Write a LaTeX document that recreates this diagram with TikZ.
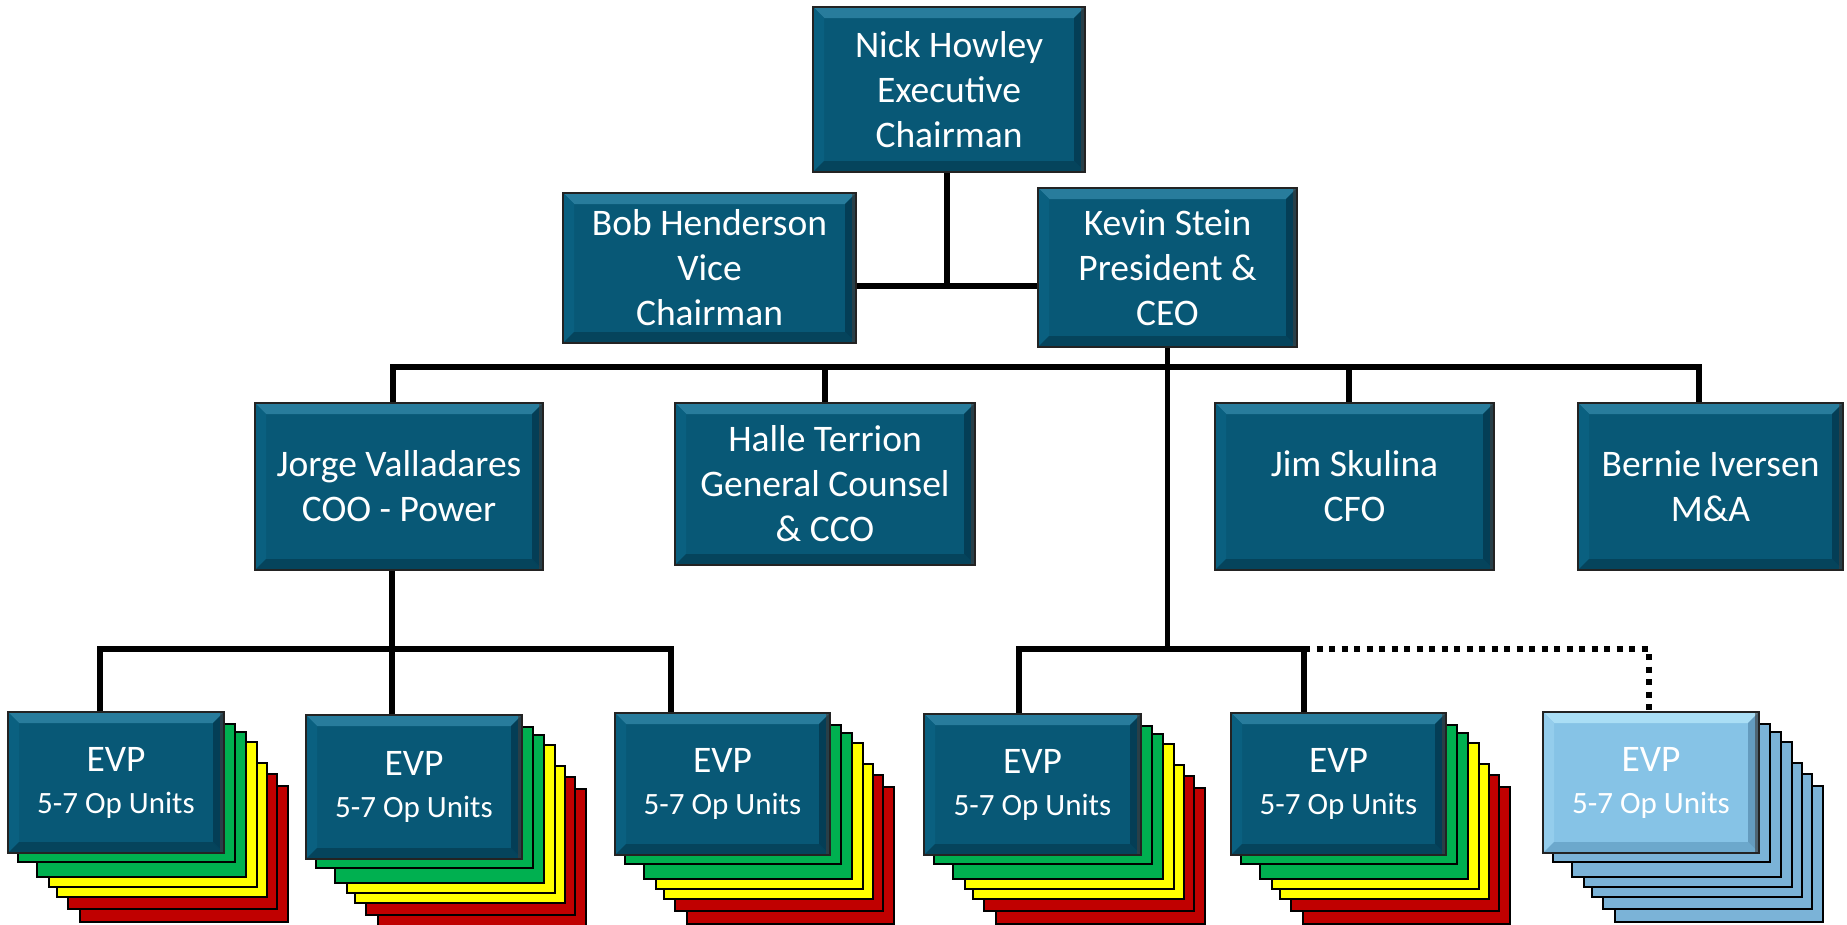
\documentclass[tikz,border=0pt]{standalone}
\usepackage{fontspec}
\setmainfont{Carlito}
\definecolor{face}{RGB}{8,88,118}
\definecolor{bevtop}{RGB}{40,124,156}
\definecolor{bevleft}{RGB}{10,96,128}
\definecolor{bevright}{RGB}{4,62,86}
\definecolor{bevbot}{RGB}{5,68,92}
\definecolor{lface}{RGB}{134,195,230}
\definecolor{lbevtop}{RGB}{170,222,245}
\definecolor{lbevleft}{RGB}{148,205,236}
\definecolor{lbevright}{RGB}{100,155,190}
\definecolor{lbevbot}{RGB}{108,168,204}
\definecolor{boxline}{RGB}{35,35,35}
\definecolor{stgreen}{RGB}{0,176,80}
\definecolor{styellow}{RGB}{255,255,0}
\definecolor{stred}{RGB}{192,0,0}
\definecolor{stblue}{RGB}{123,179,215}
\newcommand\bevelpp[4]{%
  \fill[#1] (path picture bounding box.north west) -- (path picture bounding box.north east)
    -- ([xshift=-11pt,yshift=-11pt]path picture bounding box.north east)
    -- ([xshift=11pt,yshift=-11pt]path picture bounding box.north west) -- cycle;
  \fill[#2] (path picture bounding box.north west) -- ([xshift=11pt,yshift=-11pt]path picture bounding box.north west)
    -- ([xshift=11pt,yshift=11pt]path picture bounding box.south west)
    -- (path picture bounding box.south west) -- cycle;
  \fill[#4] (path picture bounding box.south west) -- (path picture bounding box.south east)
    -- ([xshift=-11pt,yshift=11pt]path picture bounding box.south east)
    -- ([xshift=11pt,yshift=11pt]path picture bounding box.south west) -- cycle;
  \fill[#3] (path picture bounding box.north east) -- ([xshift=-11pt,yshift=-11pt]path picture bounding box.north east)
    -- ([xshift=-11pt,yshift=11pt]path picture bounding box.south east)
    -- (path picture bounding box.south east) -- cycle;
  \fill[black!75, opacity=0.6] ([xshift=-4pt]path picture bounding box.north east) rectangle (path picture bounding box.south east);
}
\newcommand\evpstack[7]{%
  \draw[layer, fill=#7] (#1+72,#2+74) rectangle (#3+64,#4+69);
  \draw[layer, fill=#7] (#1+60,#2+62) rectangle (#3+53,#4+56);
  \draw[layer, fill=#6] (#1+49,#2+51) rectangle (#3+43,#4+44);
  \draw[layer, fill=#6] (#1+41,#2+30) rectangle (#3+33,#4+34);
  \draw[layer, fill=#5] (#1+29,#2+20) rectangle (#3+22,#4+24);
  \draw[layer, fill=#5] (#1+10,#2+12) rectangle (#3+11,#4+9);
}
\begin{document}
\begin{tikzpicture}[x=1pt,y=-1pt,
  conn/.style={line width=5.5pt, line join=miter},
  dotconn/.style={line width=5.5pt, dash pattern=on 6pt off 6.5pt},
  layer/.style={draw=black, line width=2.5pt},
  box/.style={draw=boxline, line width=1.8pt, fill=face, text=white, align=center,
    inner sep=0pt, font=\fontsize{37.5}{45}\selectfont,
    path picture={\bevelpp{bevtop}{bevleft}{bevright}{bevbot}}},
  lbox/.style={draw=boxline, line width=1.8pt, fill=lface, text=white, align=center,
    inner sep=0pt, font=\fontsize{37.5}{45}\selectfont,
    path picture={\bevelpp{lbevtop}{lbevleft}{lbevright}{lbevbot}}},
  evpsize/.style={minimum width=216pt, minimum height=142pt}
]
\useasboundingbox[fill=white] (0,0) rectangle (1847,924);

% stacks behind EVP boxes
\evpstack{8}{712}{224}{853}{stgreen}{styellow}{stred}
\evpstack{306}{715}{522}{859}{stgreen}{styellow}{stred}
\evpstack{615}{713}{830}{855}{stgreen}{styellow}{stred}
\evpstack{924}{714}{1141}{855}{stgreen}{styellow}{stred}
\evpstack{1231}{713}{1446}{855}{stgreen}{styellow}{stred}
\evpstack{1543}{712}{1759}{853}{stblue}{stblue}{stblue}

% boxes
\node[box, minimum width=272pt, minimum height=165pt] (nick) at (949,89.5) {Nick Howley\\Executive\\Chairman};
\node[box, minimum width=293pt, minimum height=150pt] (bob) at (709.5,268) {Bob Henderson\\Vice\\Chairman};
\node[box, minimum width=259pt, minimum height=159pt] (kevin) at (1167.5,267.5) {Kevin Stein\\President \&\\CEO};
\node[box, minimum width=288pt, minimum height=167pt] (jorge) at (399,486.5) {Jorge Valladares\\COO - Power};
\node[box, minimum width=300pt, minimum height=162pt] (halle) at (825,484) {Halle Terrion\\General Counsel\\\& CCO};
\node[box, minimum width=279pt, minimum height=167pt] (jim) at (1354.5,486.5) {Jim Skulina\\CFO};
\node[box, minimum width=265pt, minimum height=167pt] (bernie) at (1710.5,486.5) {Bernie Iversen\\M\&A};

\node[box, evpsize, minimum height=141pt] (evp1) at (116,782.5) {EVP\\[-3pt]{\fontsize{31}{38}\selectfont 5-7 Op Units}};
\node[box, evpsize, minimum height=144pt] (evp2) at (414,787) {EVP\\[-3pt]{\fontsize{31}{38}\selectfont 5-7 Op Units}};
\node[box, evpsize, minimum width=215pt] (evp3) at (722.5,784) {EVP\\[-3pt]{\fontsize{31}{38}\selectfont 5-7 Op Units}};
\node[box, evpsize, minimum width=217pt, minimum height=141pt] (evp4) at (1032.5,784.5) {EVP\\[-3pt]{\fontsize{31}{38}\selectfont 5-7 Op Units}};
\node[box, evpsize, minimum width=215pt] (evp5) at (1338.5,784) {EVP\\[-3pt]{\fontsize{31}{38}\selectfont 5-7 Op Units}};
\node[lbox, evpsize, minimum height=141pt] (evp6) at (1651,782.5) {EVP\\[-3pt]{\fontsize{31}{38}\selectfont 5-7 Op Units}};

% connectors
\coordinate (nk) at (947,286);
\draw[conn] (nick.south -| nk) -- (nk);
\draw[conn] (bob.east |- nk) -- (kevin.west |- nk);

\coordinate (ub1) at (393,367);
\coordinate (ub2) at (1699,367);
\coordinate (dj) at (1349,367);
\draw[conn] (ub1 |- jorge.north) -- (ub1) -- (ub2) -- (ub2 |- bernie.north);
\draw[conn] (halle.north |- ub1) -- (halle.north);
\draw[conn] (dj) -- (dj |- jim.north);

\coordinate (lb) at (1167.5,649);
\draw[conn] (kevin.south) -- (lb);

\coordinate (jl) at (392,649);
\coordinate (l1) at (100,649);
\coordinate (l3) at (671,649);
\draw[conn] (jorge.south -| jl) -- (jl) -- (jl |- evp2.north);
\draw[conn] (l1 |- evp1.north) -- (l1) -- (l3) -- (l3 |- evp3.north);

\coordinate (r1) at (1019,649);
\coordinate (r2) at (1304,649);
\coordinate (r3) at (1649,649);
\draw[conn] (r1 |- evp4.north) -- (r1) -- (r2) -- (r2 |- evp5.north);
\draw[dotconn] (r2) -- (r3) -- (r3 |- evp6.north);
\end{tikzpicture}
\end{document}
